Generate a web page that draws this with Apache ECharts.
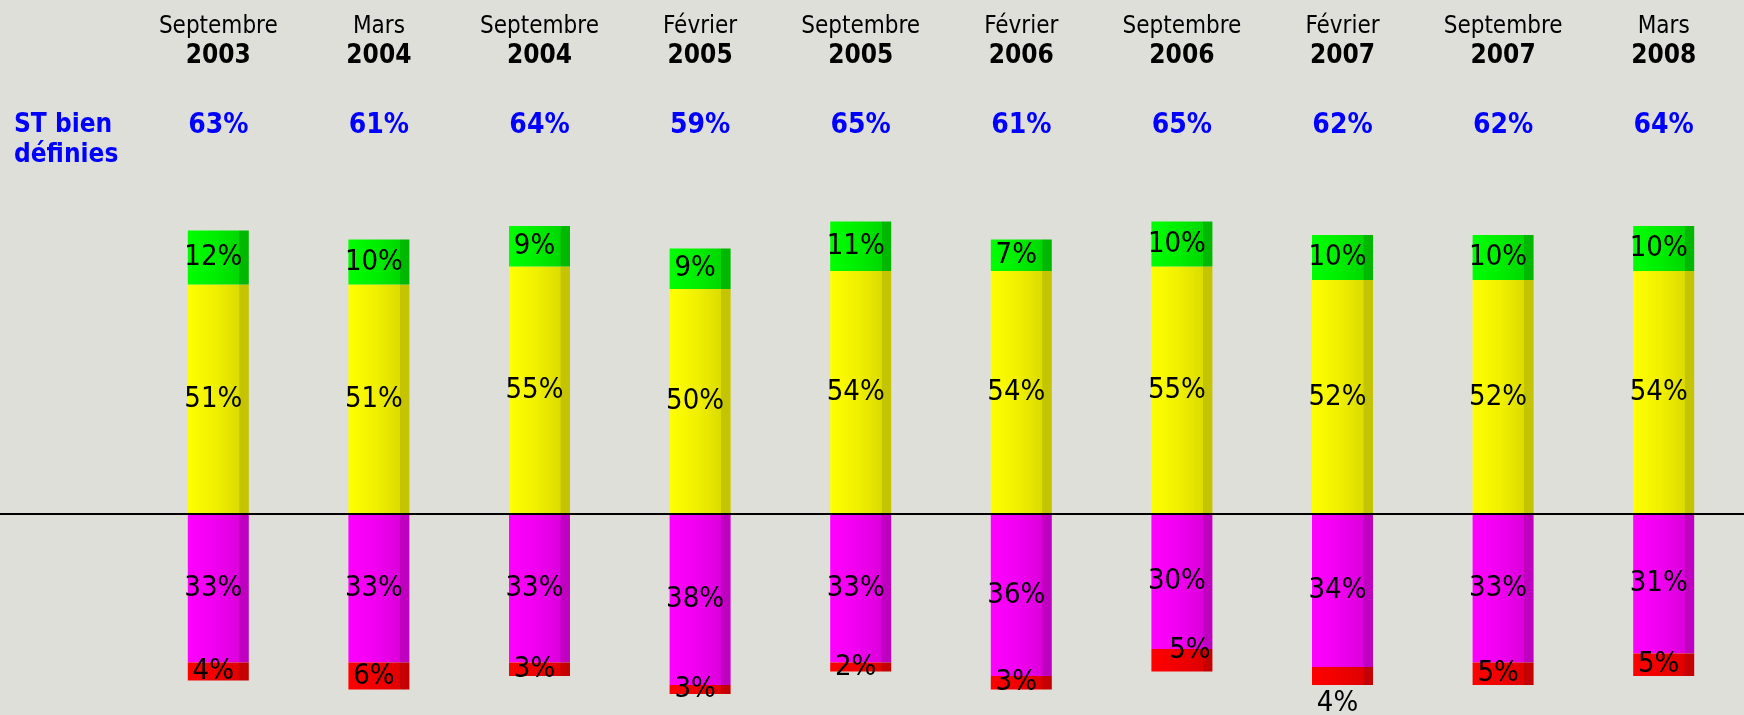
<!DOCTYPE html>
<html>
<head>
<meta charset="utf-8">
<script src="https://cdn.jsdelivr.net/npm/echarts@6/dist/echarts.min.js"></script>
<style>
html,body{margin:0;padding:0;background:#dfdfda;}
#main{width:1744px;height:715px;}
</style>
</head>
<body>
<div id="main"></div>
<script>
// ---- data ----
var months = ['Septembre','Mars','Septembre','Février','Septembre','Février','Septembre','Février','Septembre','Mars'];
var years  = ['2003','2004','2004','2005','2005','2006','2006','2007','2007','2008'];
var stBien = [63,61,64,59,65,61,65,62,62,64];
var green   = [12,10,9,9,11,7,10,10,10,10];
var yellow  = [51,51,55,50,54,54,55,52,52,54];
var magenta = [33,33,33,38,33,36,30,34,33,31];
var red     = [4,6,3,3,2,3,5,4,5,5];

var categories = months.map(function(m,i){return m+' '+years[i];});

// label nudges seen in the original (style only): [dx, dy]
var redLabelNudge = {6:[13,-10], 7:[0,27]};

function grad(c){
  return new echarts.graphic.LinearGradient(0,0,1,0,[
    {offset:0,color:c[0]},{offset:0.45,color:c[1]},{offset:0.84,color:c[2]},
    {offset:0.85,color:c[3]},{offset:1,color:c[3]}
  ]);
}
var FONT = '"DejaVu Sans Condensed", "Liberation Sans", sans-serif';
function valLabel(nudge){
  var rich = {d:{fontFamily:FONT, fontSize:29, color:'#000'}};
  if (nudge) Object.keys(nudge).forEach(function(k){
    var dx = nudge[k][0], dy = nudge[k][1];
    rich['n'+k] = {fontFamily:FONT, fontSize:29, color:'#000',
      padding:[Math.max(0,2*dy), Math.max(0,-2*dx), Math.max(0,-2*dy), Math.max(0,2*dx)]};
  });
  return {
    show:true, position:'inside', offset:[-5,0], color:'#000',
    fontFamily:FONT, fontSize:29,
    formatter:function(p){
      var key = (nudge && nudge[p.dataIndex]) ? 'n'+p.dataIndex : 'd';
      return '{'+key+'|'+Math.abs(p.value)+'%}';
    },
    rich:rich
  };
}
function barSeries(name, vals, colors, neg, nudge){
  return {
    name:name, type:'bar', stack:'a', barWidth:61, xAxisIndex:0,
    data: vals.map(function(v){return neg ? -v : v;}),
    itemStyle:{color:grad(colors)},
    label:valLabel(nudge)
  };
}

var chart = echarts.init(document.getElementById('main'), null, {renderer:'canvas'});
var option = {
  backgroundColor:'#dfdfda',
  animation:false,
  grid:{left:138, top:176.5, width:1635, height:517.5, containLabel:false},
  xAxis:[
    {type:'category', data:categories, position:'bottom',
     axisLine:{show:false}, axisTick:{show:false}, axisLabel:{show:false}},
    {type:'category', data:categories, position:'top',
     axisLine:{show:false}, axisTick:{show:false},
     axisLabel:{show:true, margin:104, interval:0,
       formatter:function(v,i){return '{m|'+months[i]+'}\n{y|'+years[i]+'}';},
       rich:{
         m:{fontFamily:FONT, fontSize:24, lineHeight:28, color:'#000'},
         y:{fontFamily:FONT, fontSize:26, fontWeight:'bold', lineHeight:32, color:'#000'}
       }}},
    {type:'category', data:categories, position:'top',
     axisLine:{show:false}, axisTick:{show:false},
     axisLabel:{show:true, margin:36, interval:0,
       formatter:function(v,i){return '{p|'+stBien[i]+'%}';},
       rich:{p:{fontFamily:FONT, fontSize:28, fontWeight:'bold', lineHeight:30, color:'#0000ff'}}}}
  ],
  yAxis:{type:'value', min:-40, max:75, show:false, splitLine:{show:false}},
  series:[
    barSeries('yellow', yellow, ['#ffff00','#f0f000','#dcdc00','#c4c400'], false),
    barSeries('green', green, ['#00ff00','#00ee00','#00d800','#00b800'], false),
    barSeries('magenta', magenta, ['#ff00ff','#f000f0','#dc00dc','#c000c0'], true),
    barSeries('red', red, ['#ff0000','#f00000','#e00000','#c40000'], true, redLabelNudge)
  ]
};
chart.setOption(option);

var y0 = chart.convertToPixel({yAxisIndex:0}, 0);
chart.setOption({
  graphic:[
    {type:'line', shape:{x1:0, y1:y0, x2:1744, y2:y0}, style:{stroke:'#000', lineWidth:2}, z:100},
    {type:'text', left:14, top:110, style:{text:'ST bien\ndéfinies', font:'bold 26px '+FONT, fill:'#0000ff', lineHeight:30}}
  ]
});
</script>
</body>
</html>
